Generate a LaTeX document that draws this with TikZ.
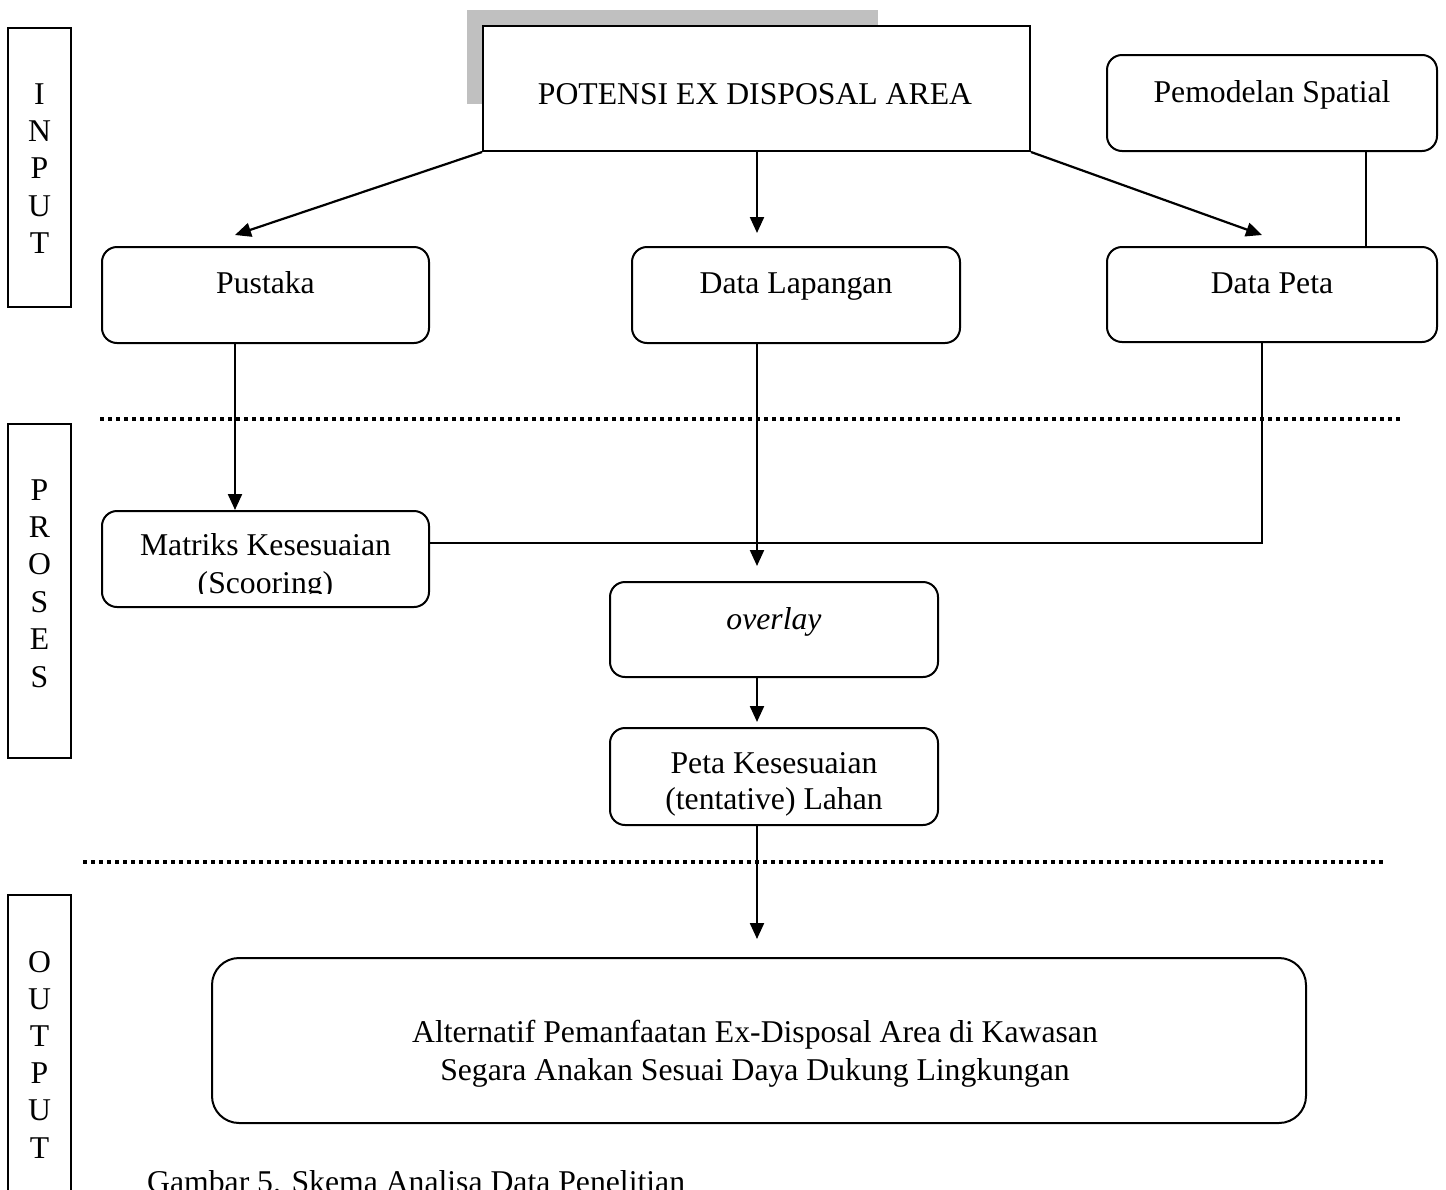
\documentclass[tikz,border=0pt]{standalone}
\usepackage{fontspec}
\setmainfont{Liberation Serif}
\usetikzlibrary{arrows.meta}
\definecolor{barGray}{RGB}{192,192,192}
\begin{document}
\begin{tikzpicture}[x=1pt,y=-1pt,
  every node/.style={font=\fontsize{31.7}{38}\selectfont},
  rbox/.style={draw, line width=2pt, rounded corners=15pt, inner sep=0pt},
  sbox/.style={draw, line width=2pt, inner sep=0pt},
  conn/.style={line width=2.2pt},
  arr/.style={conn, -{Triangle[length=16pt,width=14pt]}},
  dots/.style={line width=3.5pt, dash pattern=on 3.5pt off 4.5pt},
  lbl/.style={anchor=base, inner sep=0pt}]
\useasboundingbox (0,0) rectangle (1446,1189);

% side boxes
\node[sbox, minimum width=63pt, minimum height=279pt] (sideIn) at (39.5,167.5) {};
\node[sbox, minimum width=63pt, minimum height=334pt] (sideProc) at (39.5,591) {};
\node[sbox, minimum width=63pt, minimum height=310pt] (sideOut) at (39.5,1050) {};
\foreach \l [count=\i from 0] in {I,N,P,U,T}
  \node[lbl] (in\i) at (39.5,104+37.4*\i) {\l};
\foreach \l [count=\i from 0] in {P,R,O,S,E,S}
  \node[lbl] (pr\i) at (39.5,500+37.4*\i) {\l};
\foreach \l [count=\i from 0] in {O,U,T,P,U,T}
  \node[lbl] (ou\i) at (39.5,972+37.2*\i) {\l};

% dotted separators
\coordinate (d1a) at (100,419); \coordinate (d1b) at (1403,419);
\coordinate (d2a) at (83,862);  \coordinate (d2b) at (1385,862);
\draw[dots] (d1a) -- (d1b);
\draw[dots] (d2a) -- (d2b);

% top box with grey bar
\node[fill=barGray, inner sep=0pt, minimum width=411pt, minimum height=94pt] (shadow) at (672.5,57) {};
\node[sbox, fill=white, minimum width=547pt, minimum height=125pt] (potensi) at (756.5,88.5) {};
\node[lbl] (tPot) at (755,104) {POTENSI EX DISPOSAL AREA};

\node[rbox, minimum width=330pt, minimum height=96pt] (pemodelan) at (1272,103) {};
\node[lbl] (tPem) at (1272,102) {Pemodelan Spatial};

\node[rbox, minimum width=327pt, minimum height=96pt] (pustaka) at (265.5,295) {};
\node[lbl] (tPus) at (265.5,293) {Pustaka};
\node[rbox, minimum width=328pt, minimum height=96pt] (lapangan) at (796,295) {};
\node[lbl] (tLap) at (796,293) {Data Lapangan};
\node[rbox, minimum width=330pt, minimum height=95pt] (datapeta) at (1272,294.5) {};
\node[lbl] (tDP) at (1272,293) {Data Peta};

\node[rbox, minimum width=327pt, minimum height=96pt] (matriks) at (265.5,559) {};
\begin{scope}
  \clip (102,500) rectangle (429,593);
  \node[lbl] (tMat1) at (265.5,555) {Matriks Kesesuaian};
  \node[lbl] (tMat2) at (265.5,593) {(Scooring)};
\end{scope}

\node[rbox, minimum width=328pt, minimum height=95pt] (overlay) at (774,629.5) {};
\node[lbl] (tOv) at (774,629) {\itshape overlay};

\node[rbox, minimum width=328pt, minimum height=97pt] (petakes) at (774,776.5) {};
\node[lbl] (tPk1) at (774,773) {Peta Kesesuaian};
\node[lbl] (tPk2) at (774,809) {(tentative) Lahan};

\node[rbox, rounded corners=27pt, minimum width=1094pt, minimum height=165pt] (output) at (759,1040.5) {};
\node[lbl] (tOut1) at (755,1042) {Alternatif Pemanfaatan Ex-Disposal Area di Kawasan};
\node[lbl] (tOut2) at (755,1080) {Segara Anakan Sesuai Daya Dukung Lingkungan};

\node[anchor=base west, inner sep=0pt] (caption) at (147,1192) {Gambar 5. Skema Analisa Data Penelitian};

% connectors
\coordinate (xl) at (235,0);
\coordinate (xm) at (757,0);
\coordinate (xr) at (1262,0);
\coordinate (xs) at (1366,0);
\coordinate (ym) at (0,543);
\coordinate (tipL) at (235,235);
\coordinate (tipM) at (757,233);
\coordinate (tipR) at (1262,235);
\draw[arr] (potensi.south west) -- (tipL);
\draw[arr] (potensi.south -| xm) -- (tipM);
\draw[arr] (potensi.south east) -- (tipR);
\draw[conn] (pemodelan.south -| xs) -- (datapeta.north -| xs);
\draw[arr] (pustaka.south -| xl) -- (matriks.north -| xl);
\draw[arr, shorten >=15pt] (lapangan.south -| xm) -- (overlay.north -| xm);
\draw[conn] (matriks.east |- ym) -- (xr |- ym) -- (datapeta.south -| xr);
\draw[arr, shorten >=5pt] (overlay.south -| xm) -- (petakes.north -| xm);
\draw[arr, shorten >=18pt] (petakes.south -| xm) -- (output.north -| xm);
\end{tikzpicture}
\end{document}
